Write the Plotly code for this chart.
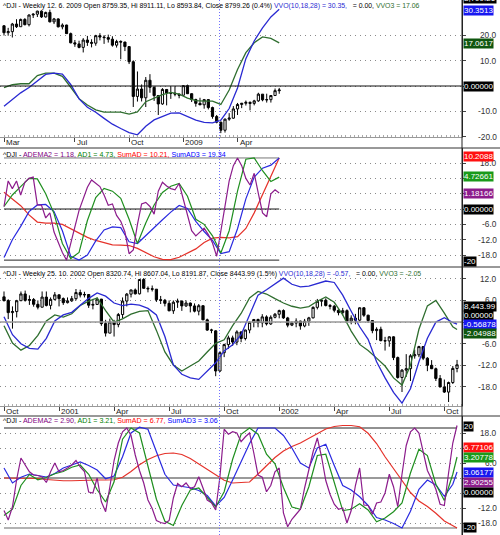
import plotly.graph_objects as go
import pandas as pd

W, H = 500, 535
AX_X = 462  # px position of right axis line

# ---------------- Panes 1-2 : ^DJI weekly 2008-03 .. 2009-06 ----------------
dates_a = pd.date_range("2008-03-07", periods=67, freq="W-FRI")
open_a = [12266, 11893, 11950, 12361, 12216, 12610, 12325, 12849, 12891, 13058, 12745, 12987, 12479, 12638, 12210,
          12307, 11843, 11346, 11288, 11100, 11496, 11370, 11326, 11734, 11659, 11628, 11543, 11220, 11421, 11388,
          11143, 10325, 8451, 8852, 8378, 9325, 8943, 8497, 8046, 8829, 8635, 8629, 8579, 8515, 9034, 8599, 8281,
          8077, 8001, 8280, 7850, 7365, 7062, 6627, 7224, 7278, 7776, 8018, 8083, 8131, 8076, 8212, 8575, 8268,
          8277, 8500, 8759.35]
high_a = [12300, 12156, 12422, 12622, 12655, 12679, 12884, 12943, 13079, 13099, 13031, 13136, 12692, 12668, 12397,
          12323, 11900, 11500, 11460, 11600, 11720, 11540, 11780, 11867, 11760, 11790, 11700, 11510, 11480, 11400,
          11150, 10400, 9800, 9100, 9500, 9654, 9000, 8530, 8900, 8835, 9000, 9000, 8600, 9065, 9090, 8620, 8330,
          8380, 8315, 8290, 7900, 7450, 7090, 7260, 7550, 7930, 8100, 8100, 8230, 8180, 8270, 8650, 8580, 8600,
          8520, 8880, 8911.11]
low_a = [11740, 11731, 11634, 12148, 12216, 12290, 12233, 12686, 12740, 12690, 12709, 12450, 12360, 12181, 12075,
         11835, 11320, 11130, 11050, 10827, 11180, 11100, 11190, 11480, 11290, 11360, 11140, 11090, 10460, 10900,
         10200, 7882, 8175, 8180, 7880, 8650, 8210, 7450, 8000, 7970, 8320, 8460, 8350, 8500, 8580, 8150, 7900,
         7980, 7790, 7750, 7250, 7000, 6470, 6500, 7140, 7250, 7450, 7820, 7960, 7700, 7970, 8160, 8190, 8120,
         8120, 8480, 8593.84]
close_a = [11894, 11951, 12361, 12216, 12609, 12325, 12849, 12891, 13058, 12745, 12986, 12479, 12638, 12209, 12307,
           11843, 11346, 11288, 11100, 11496, 11370, 11326, 11734, 11659, 11628, 11543, 11220, 11421, 11388, 11143,
           10325, 8451, 8852, 8378, 9325, 8943, 8497, 8046, 8829, 8635, 8629, 8579, 8515, 9034, 8599, 8281, 8077,
           8001, 8280, 7850, 7365, 7062, 6627, 7224, 7278, 7776, 8018, 8083, 8131, 8076, 8212, 8575, 8268, 8277,
           8500, 8764, 8799.26]
# indicator lines, sampled every second week (dates_a[::2])
vvo_a = [-8.0, -5.3, -2.7, -0.6, 2.1, 4.6, 5.1, 4.7, 0.6, -5.1, -8.4, -10.4, -12.8, -15.1, -16.8, -18.4, -19.3,
         -15.9, -13.4, -12.1, -10.7, -10.6, -12.1, -13.5, -14.4, -14.6, -13.5, -8.9, -0.8, 10.8, 17.8, 23.0, 27.3,
         30.3513]
vvo3_a = [-0.6, 0.5, 0.9, 0.9, 4.1, 5.1, 5.1, 3.8, -0.5, -5.0, -7.5, -9.4, -10.3, -10.3, -10.3, -11.1, -10.2,
          -6.2, -4.9, -3.4, -2.5, -3.2, -4.8, -5.8, -6.0, -6.0, -7.3, -1.6, 6.5, 13.2, 17.1, 19.4, 18.8, 17.0617]
# pane 2 (own-scaled lines, as drawn on the -20..20 band)
adema2_a = [1.0, 11.0, 8.0, 11.0, 5.5, 10.5, 12.0, 12.5, 1.6, 1.5,
            -3.5, -1.5, -9.0, -13.0, -17.0, -20.0, -14.0, -7.0, -0.5, 4.0,
            8.5, 11.4, 10.2, 8.8, 5.5, 1.5, 2.0, -2.5, -4.8, -9.0,
            -17.5, -16.0, -6.0, 2.0, 2.6, 1.0, -2.0, 7.0, 10.5, 9.0,
            8.0, 7.5, 10.0, 4.0, -3.0, -8.5, -10.5, -9.0, -7.5, -10.0,
            -13.3, -18.5, -9.0, 2.0, 11.0, 17.0, 20.0, 17.0, 12.0, 9.4,
            14.0, 6.0, -1.5, -3.0, 6.0, 7.5, 6.3]
ad1_a = [1.0, 5.5, 8.8, 12.0, 11.8, 6.0, -1.8, -13.5, -19.4, -17.0, -4.5, 4.5, 8.1, 7.0, 4.2, -4.0, -13.5,
         -5.5, 1.6, 6.5, 8.9, 10.0, 5.0, -4.0, -6.0, -10.5, -17.2, -8.5, 7.0, 19.5, 20.0, 15.0, 10.8, 12.5]
sumad_a = [6.6, 4.0, 1.3, -2.3, -5.1, -5.5, -5.5, -6.0, -7.7, -9.5, -11.1, -12.3, -13.3, -14.0, -14.1, -14.3,
           -15.4, -17.0, -18.7, -19.7, -19.8, -18.9, -17.2, -15.6, -13.1, -11.4, -11.1, -11.3, -10.8, -7.6, -1.5,
           5.5, 13.0, 20.0]
sumad3_a = [-19.0, -12.0, -6.8, -1.0, 1.6, 1.8, -1.0, -8.5, -18.5, -20.0, -18.0, -12.5, -8.2, -7.0, -7.3, -12.8,
            -13.5, -10.3, -7.5, -4.2, -1.2, 1.4, 0.2, -4.8, -8.8, -12.3, -17.4, -16.7, -7.7, 4.0, 12.5, 16.0,
            17.2, 20.0]
ind_last_a = [1.18166, 4.72661, 10.2088, 19.34]

# ---------------- Panes 3-4 : ^DJI weekly 2000-10 .. 2002-10 ----------------
dates_b = pd.date_range("2000-10-06", periods=108, freq="W-FRI")
open_b = [10720, 10596, 10192, 10226, 10590, 10817, 10602, 10629, 10470, 10373, 10712, 10434, 10635,
          10787, 10662, 10525, 10587, 10659, 10864, 10781, 10799, 10441, 10466, 10644, 9823, 9505, 9879, 9791,
          10127, 10579, 10811, 10951, 10821, 11301, 11006, 10990, 10977, 10623, 10604, 10502, 10252, 10540, 10577,
          10417, 10512, 10416, 10240, 10423, 9950, 9606, 9580, 8236, 8848, 9120, 9345, 9205, 9545, 9324, 9608,
          9867, 9960, 9852, 10049, 9812, 10036,
          10137, 10260, 10014, 9772, 9841, 9908, 9745, 9903, 10016, 10368, 10572, 10608, 10428, 10404, 10271,
          10191, 10257, 9911, 10006, 9939, 10353, 10105, 9925, 9589, 9633, 9253, 9243, 9380, 8685, 8019, 8264,
          8313, 8745, 8778, 9053, 8664, 8427, 8312, 7986, 7701, 7529, 7850, 8320.74]
high_b = [10900, 10640, 10400, 10620, 10900, 10930, 10770, 10680, 10600, 10900, 10900, 10700, 10880,
          10800, 10700, 10700, 10750, 10983, 10960, 10890, 10810, 10650, 10700, 10650, 9950, 9990, 9950, 10180,
          10700, 10850, 10960, 11000, 11320, 11350, 11070, 11100, 10980, 10750, 10650, 10600, 10600, 10660, 10600,
          10600, 10530, 10500, 10480, 10430, 9990, 9650, 9600, 8900, 9150, 9420, 9420, 9600, 9560, 9620, 9900,
          9980, 9990, 10140, 10100, 10100, 10180,
          10290, 10300, 10050, 9900, 10000, 9920, 9980, 10050, 10400, 10650, 10640, 10670, 10480, 10450, 10300,
          10350, 10300, 10100, 10150, 10370, 10380, 10120, 9930, 9700, 9720, 9380, 9400, 9400, 8720, 8300, 8800,
          8800, 8950, 9080, 9060, 8700, 8600, 8350, 8100, 7950, 7880, 8400, 8607.04]
low_b = [10560, 9975, 9655, 10030, 10580, 10560, 10450, 10390, 10300, 10370, 10400, 10300, 10600,
         10400, 10450, 10500, 10550, 10600, 10700, 10700, 10350, 10300, 10450, 9750, 9390, 9500, 9390, 9700,
         10000, 10400, 10700, 10800, 10800, 10990, 10870, 10900, 10550, 10480, 10400, 10240, 10150, 10350, 10250,
         10380, 10200, 10200, 10100, 9940, 9580, 9500, 8062, 8200, 8700, 8980, 9080, 9100, 9200, 9260, 9500,
         9700, 9700, 9700, 9760, 9780, 10000,
         10000, 9980, 9700, 9740, 9700, 9620, 9700, 9750, 10000, 10300, 10400, 10400, 10300, 10200, 10100,
         10100, 9900, 9800, 9800, 9900, 10050, 9850, 9500, 9270, 9230, 8920, 9050, 8600, 7980, 7532, 8040,
         7900, 8650, 8700, 8600, 8230, 8300, 7900, 7690, 7500, 7197, 7800, 8191.87]
close_b = [10596, 10192, 10226, 10590, 10817, 10602, 10629, 10470, 10373, 10712, 10434, 10635, 10787,
           10662, 10525, 10587, 10659, 10864, 10781, 10799, 10441, 10466, 10644, 9823, 9505, 9879, 9791, 10127,
           10579, 10811, 10951, 10821, 11301, 11006, 10990, 10977, 10623, 10604, 10502, 10252, 10540, 10577,
           10417, 10512, 10416, 10240, 10423, 9950, 9606, 9605, 8236, 8848, 9120, 9345, 9205, 9545, 9324, 9608,
           9867, 9960, 9852, 10049, 9812, 10036, 10137,
           10260, 10014, 9772, 9841, 9908, 9745, 9903, 10016, 10368, 10572, 10608, 10428, 10404, 10271, 10191,
           10257, 9911, 10006, 9939, 10353, 10105, 9925, 9589, 9633, 9253, 9243, 9380, 8685, 8019, 8264, 8313,
           8745, 8778, 9053, 8664, 8427, 8312, 7986, 7701, 7529, 7850, 8322, 8443.99]
# sampled every second week plus the last week
vvo_b = [1.5, -3.5, -6.0, -7.3, -7.5, -4.5, 0.3, 2.0, 2.7, 4.7, 6.6, 8.1, 7.2, 5.3, 4.6, 5.0, 4.7, 3.8, 2.0, -4.0,
         -11.9, -14.5, -15.5, -15.9, -13.6, -11.3, -8.0, -6.3, -3.5, 2.0, 7.5, 9.0, 10.5, 12.2, 10.5, 9.8, 10.0,
         10.8, 11.4, 11.0, 7.5, 3.0, -1.3, -4.8, -11.0, -15.5, -19.5, -22.5, -18.5, -11.0, -4.5, 0.0, 1.2, -0.1,
         -0.56878]
vvo3_b = [-1.0, -5.8, -7.8, -6.5, -3.7, 0.3, 2.0, 1.4, 2.3, 4.6, 5.8, 6.7, 3.2, 0.0, 0.9, 2.2, 3.0, 3.2, -2.3,
          -8.3, -11.9, -13.6, -12.2, -10.8, -8.3, -5.9, -4.9, -1.0, 2.4, 6.7, 8.5, 7.8, 6.5, 5.3, 4.4, 3.9, 4.3,
          5.8, 7.0, 5.5, 2.0, -2.5, -6.2, -7.9, -10.0, -12.2, -15.5, -17.5, -12.0, -2.0, 4.5, 6.0, 2.5, -1.3,
          -2.04988]
adema2_b = [-13.0, -16.8, -11.5, -0.5, 8.0, 5.5, 2.5, 1.2, 1.0, 0.4,
            -1.8, 2.5, 6.0, 2.5, 3.0, 4.0, 5.2, 7.0, 4.4, 2.6,
            -5.6, -6.0, 0.0, -9.5, -13.5, -3.5, 7.0, 14.0, 18.5, 20.0,
            17.0, 9.2, 3.0, -2.0, -8.8, -12.2, -17.0, -17.8, -18.2, -17.0,
            -8.0, -2.2, -3.5, -2.0, -4.2, -3.5, 0.5, -4.0, -8.8, -9.9,
            -12.8, 0.5, 19.5, 17.5, 18.5, 18.0, 14.5, 16.5, 18.0, 10.0,
            1.2, 0.3, -5.5, -3.0, 2.5, 4.0, -14.0, -19.5, -16.5, -14.5,
            -12.5, -4.0, 3.5, 10.5, 16.0, 8.5, -1.0, -6.5, -10.5, -12.5,
            -12.0, -18.0, -13.0, -3.0, 4.0, -10.8, -11.0, -14.5, -10.0, -9.6,
            -6.0, 1.5, -3.5, -11.5, 1.5, 13.0, 18.5, 20.0, 18.0, 10.0,
            3.0, -0.5, -4.5, -10.5, -11.0, 2.0, 14.0, 21.0]
ad1_b = [-15.0, -12.5, -3.0, 1.4, -0.7, 0.2, 1.7, 2.6, 4.3, 5.2, 1.5, -4.7, -9.6, -1.5, 15.5, 20.0, 18.0, 4.8,
         -8.5, -17.3, -19.0, -11.0, -4.8, -4.0, -7.6, -11.6, -5.5, 7.5, 17.5, 20.0, 17.5, 9.5, 5.7, -3.8, -11.6,
         -12.5, -3.5, 9.0, 9.5, -1.7, -13.0, -12.5, -10.3, -12.8, -17.5, -16.0, -13.5, -10.0, 2.0, 11.5, 9.0,
         -2.5, -9.0, 1.5, 8.4]
sumad_b = [0.0, 0.0, 0.0, 0.0, -0.2, -0.6, -0.9, -1.1, -1.1, -0.9, -0.8, -0.8, -0.8, -0.7, 0.3, 2.6, 5.3, 7.4,
           8.9, 9.8, 10.0, 9.4, 7.8, 5.6, 3.4, 1.0, -0.9, -2.0, -1.8, -1.6, 1.6, 5.0, 8.2, 10.8, 12.6, 14.0, 15.8,
           17.8, 19.6, 20.6, 21.0, 21.0, 20.5, 17.9, 13.8, 8.5, 3.5, -1.0, -5.8, -9.2, -11.4, -14.1, -17.2, -19.0,
           -20.0]
sumad3_b = [4.0, -2.0, 0.3, 1.6, 1.0, 0.4, 1.8, 4.0, 5.2, 6.4, 5.0, 3.2, -0.3, 0.8, 8.5, 18.0, 20.3, 19.5, 10.5,
            1.5, -2.8, -3.5, -3.9, -5.0, -7.0, -11.2, -7.8, -0.8, 6.5, 13.8, 20.0, 20.0, 20.0, 17.0, 12.0, 6.0,
            4.0, 12.0, 13.5, 5.0, -3.0, -4.8, -7.5, -11.0, -15.8, -16.8, -18.2, -20.0, -13.3, -4.5, -0.8, -2.8,
            -7.3, -2.5, 2.4]
ind_last_b = [2.90255, 3.20778, 6.77106, 3.06177]
ind_names = ["ADEMA2", "AD1", "SumAD", "SumAD3"]

# axis ticks / labels
ticks_1 = [20, 10, 0, -10, -20]
ticks_2 = [18, 12, 6, 0, -6, -12, -18]
ticks_3 = [12, 6, 0, -6, -12, -18]
ticks_4 = [18, 12, 6, 0, -6, -12, -18]
band_levels = [20, 0, -20]
month_ticks_a = ["2008-03-07", "2008-07-04", "2008-10-03", "2009-01-02", "2009-04-03"]
month_text_a = ["Mar", "Jul", "Oct", "2009", "Apr"]
month_ticks_b = ["2000-10-06", "2001-01-05", "2001-04-06", "2001-07-06", "2001-10-05",
                 "2002-01-04", "2002-04-05", "2002-07-05", "2002-10-04"]
month_text_b = ["Oct", "2001", "Apr", "Jul", "Oct", "2002", "Apr", "Jul", "Oct"]

for arr in (open_a, high_a, low_a, close_a, adema2_a):
    assert len(arr) == len(dates_a), len(arr)
for arr in (vvo_a, vvo3_a, ad1_a, sumad_a, sumad3_a):
    assert len(arr) == len(dates_a[::2]), len(arr)
for arr in (open_b, high_b, low_b, close_b, adema2_b):
    assert len(arr) == len(dates_b), len(arr)
xs_b = list(dates_b[::2]) + [dates_b[-1]]
for arr in (vvo_b, vvo3_b, ad1_b, sumad_b, sumad3_b):
    assert len(arr) == len(xs_b), len(arr)
xs_a = list(dates_a[::2])

# ---------------- styling ----------------
FONT = "Liberation Sans, Arial, sans-serif"
C_BLUE = "#2a2ad2"
C_GDARK = "#2f6e2f"
C_PURPLE = "#8c1c8c"
C_GREEN = "#1f8f1f"
C_RED = "#e5322a"
C_BLUE2 = "#2a2ae0"
GRID = "#8a8a8a"


def pv(px):  # pixel row -> paper y
    return 1 - px / H


dom1 = [pv(137), 1.0]
dom2 = [pv(267), pv(148)]
dom3 = [pv(406), pv(267)]
dom4 = [0.0, pv(416)]
XD = [0, AX_X / W]

pxw_a, pxw_b = 4.17, 4.234
rng_a = [dates_a[0] - pd.Timedelta(days=7 * 4 / pxw_a), dates_a[0] + pd.Timedelta(days=7 * (AX_X - 4) / pxw_a)]
rng_b = [dates_b[0] - pd.Timedelta(days=7 * 4 / pxw_b), dates_b[0] + pd.Timedelta(days=7 * (AX_X - 4) / pxw_b)]

fig = go.Figure()

candle_style = dict(increasing=dict(line=dict(color="black", width=1), fillcolor="white"),
                    decreasing=dict(line=dict(color="black", width=1), fillcolor="black"),
                    whiskerwidth=0, showlegend=False, hoverinfo="skip")

# pane 1
fig.add_trace(go.Candlestick(x=dates_a, open=open_a, high=high_a, low=low_a, close=close_a,
                             xaxis="x", yaxis="y", **candle_style))
fig.add_trace(go.Scatter(x=xs_a, y=vvo3_a, mode="lines", line=dict(color=C_GDARK, width=1.3),
                         xaxis="x", yaxis="y2", showlegend=False))
fig.add_trace(go.Scatter(x=xs_a, y=vvo_a, mode="lines", line=dict(color=C_BLUE, width=1.3),
                         xaxis="x", yaxis="y2", showlegend=False))
# pane 2
for lvl, col in zip(band_levels, ["#777777", "#111111", "#222222"]):
    fig.add_trace(go.Scatter(x=dates_a, y=[lvl] * len(dates_a), mode="lines", line=dict(color=col, width=1),
                             xaxis="x2", yaxis="y3", showlegend=False))
fig.add_trace(go.Scatter(x=xs_a, y=sumad_a, mode="lines", line=dict(color=C_RED, width=1.2),
                         xaxis="x2", yaxis="y3", showlegend=False))
fig.add_trace(go.Scatter(x=xs_a, y=sumad3_a, mode="lines", line=dict(color=C_BLUE2, width=1.2),
                         xaxis="x2", yaxis="y3", showlegend=False))
fig.add_trace(go.Scatter(x=xs_a, y=ad1_a, mode="lines", line=dict(color=C_GREEN, width=1.2),
                         xaxis="x2", yaxis="y3", showlegend=False))
fig.add_trace(go.Scatter(x=dates_a, y=adema2_a, mode="lines", line=dict(color=C_PURPLE, width=1.2),
                         xaxis="x2", yaxis="y3", showlegend=False))
# pane 3
fig.add_trace(go.Candlestick(x=dates_b, open=open_b, high=high_b, low=low_b, close=close_b,
                             xaxis="x3", yaxis="y4", **candle_style))
fig.add_trace(go.Scatter(x=xs_b, y=vvo3_b, mode="lines", line=dict(color=C_GDARK, width=1.3),
                         xaxis="x3", yaxis="y5", showlegend=False))
fig.add_trace(go.Scatter(x=xs_b, y=vvo_b, mode="lines", line=dict(color=C_BLUE, width=1.3),
                         xaxis="x3", yaxis="y5", showlegend=False))
# pane 4
for lvl, col, wd in zip(band_levels, ["#222222", "#9a9a9a", "#9a9a9a"], [1, 2, 1.5]):
    fig.add_trace(go.Scatter(x=dates_b, y=[lvl] * len(dates_b), mode="lines", line=dict(color=col, width=wd),
                             xaxis="x4", yaxis="y6", showlegend=False))
fig.add_trace(go.Scatter(x=xs_b, y=sumad_b, mode="lines", line=dict(color=C_RED, width=1.2),
                         xaxis="x4", yaxis="y6", showlegend=False))
fig.add_trace(go.Scatter(x=xs_b, y=sumad3_b, mode="lines", line=dict(color=C_BLUE2, width=1.2),
                         xaxis="x4", yaxis="y6", showlegend=False))
fig.add_trace(go.Scatter(x=xs_b, y=ad1_b, mode="lines", line=dict(color=C_GREEN, width=1.2),
                         xaxis="x4", yaxis="y6", showlegend=False))
fig.add_trace(go.Scatter(x=dates_b, y=adema2_b, mode="lines", line=dict(color=C_PURPLE, width=1.2),
                         xaxis="x4", yaxis="y6", showlegend=False))


def date_axis(rng, ticks, anchor, d0):
    return dict(domain=XD, anchor=anchor, type="date", range=rng, showline=True, linecolor="#999999",
                linewidth=1, ticks="outside", ticklen=4, tickcolor="#444444", tickvals=ticks,
                showticklabels=False, showgrid=False, zeroline=False, rangeslider=dict(visible=False),
                minor=dict(ticks="inside", ticklen=2, tickcolor="#aaaaaa", dtick=7 * 86400000, tick0=d0,
                           showgrid=False))


def value_axis(dom, rng, ticks, anchor, overlay=None):
    d = dict(domain=dom, anchor=anchor, side="right", range=rng, tickvals=ticks, showticklabels=False,
             ticks="outside", ticklen=3, tickcolor="#444444", showgrid=True, gridcolor=GRID, griddash="1px,4px",
             gridwidth=1, showline=True, linecolor="#222222", linewidth=1, zeroline=False)
    if overlay:
        d["overlaying"] = overlay
    return d


hidden_price = lambda dom, rng, anchor: dict(domain=dom, range=rng, anchor=anchor, visible=False,
                                             showgrid=False, zeroline=False)

fig.update_layout(
    width=W, height=H, margin=dict(l=0, r=0, t=0, b=0), paper_bgcolor="white", plot_bgcolor="white",
    showlegend=False, boxgap=0.25,
    xaxis=date_axis(rng_a, month_ticks_a, "y", dates_a[0]),
    xaxis2=dict(matches="x", anchor="y3", domain=XD, type="date", visible=False, rangeslider=dict(visible=False)),
    xaxis3=date_axis(rng_b, month_ticks_b, "y4", dates_b[0]),
    xaxis4=dict(matches="x3", anchor="y6", domain=XD, type="date", visible=False, rangeslider=dict(visible=False)),
    yaxis=hidden_price(dom1, [6261, 13659], "x"),
    yaxis2=value_axis(dom1, [-20.16, 34.0], ticks_1, "x", overlay="y"),
    yaxis3=value_axis(dom2, [-22.7, 23.9], ticks_2, "x2"),
    yaxis4=hidden_price(dom3, [7063, 11720], "x3"),
    yaxis5=value_axis(dom3, [-23.3, 15.3], ticks_3, "x3", overlay="y4"),
    yaxis6=value_axis(dom4, [-22.8, 24.8], ticks_4, "x4"),
)

shapes = []
# zero lines for panes 1 and 3 (full width)
shapes.append(dict(type="line", xref="paper", x0=0, x1=AX_X / W, yref="y2", y0=band_levels[1], y1=band_levels[1],
                   line=dict(color="#111111", width=1)))
shapes.append(dict(type="line", xref="paper", x0=0, x1=AX_X / W, yref="y5", y0=band_levels[1], y1=band_levels[1],
                   line=dict(color="#999999", width=1.5)))
# pane separators and right border
for py in (148, 267, 416):
    shapes.append(dict(type="line", xref="paper", x0=0, x1=1, yref="paper", y0=pv(py), y1=pv(py),
                       line=dict(color="#333333", width=1)))
shapes.append(dict(type="line", xref="paper", x0=AX_X / W, x1=AX_X / W, yref="paper", y0=0, y1=1,
                   line=dict(color="#222222", width=1)))
# cross-hair
shapes.append(dict(type="line", xref="paper", x0=219.5 / W, x1=219.5 / W, yref="paper", y0=0, y1=1,
                   line=dict(color="#7070ff", width=1, dash="1px,2px")))
fig.update_layout(shapes=shapes)

ann = []


def span(txt, col):
    return f'<span style="color:{col}">{txt}</span>'


def title_price(dates, o, h, l, c, vvo, vvo3):
    d = dates[-1]
    chg = (c[-1] / c[-2] - 1) * 100
    return (f"^DJI - Weekly {d.day}. {d.month}. {d.year} Open {o[-1]:.2f}, Hi {h[-1]:.2f}, Lo {l[-1]:.2f}, "
            f"Close {c[-1]:.2f} ({chg:.1f}%) " + span(f"VVO(10,18,28) = {vvo[-1]:.2f},", C_BLUE)
            + "\u00a0\u00a0 = 0.00, " + span(f"VVO3 = {vvo3[-1]:.2f}", C_GDARK))


def title_ind(vals):
    cols = ["#800080", "#008000", "#ff0000", "#0000ff"]
    parts = []
    for i, (n, v, col) in enumerate(zip(ind_names, vals, cols)):
        sep = "," if i < 3 else ""
        parts.append(span(f"{n} = {v:.2f}{sep}", col))
    return "^DJI - " + " ".join(parts)


for txt, py, fs in ((title_price(dates_a, open_a, high_a, low_a, close_a, vvo_a, vvo3_a), 5.5, 6.9),
                    (title_ind(ind_last_a), 155, 7.1),
                    (title_price(dates_b, open_b, high_b, low_b, close_b, vvo_b, vvo3_b), 273.5, 6.9),
                    (title_ind(ind_last_b), 421, 7.1)):
    ann.append(dict(x=2 / W, xref="paper", xanchor="left", y=pv(py), yref="paper", yanchor="middle",
                    text=txt, showarrow=False, font=dict(family=FONT, size=fs, color="#000000"), borderpad=0))


def fmt(v):
    return f"{v:.5f}" if abs(v) < 10 else f"{v:.4f}"


# value boxes (text, pixel centre row, colour)
boxes = [
    (f"{close_a[-1]:,.2f}", -1, "#000000"),
    (fmt(vvo_a[-1]), 10, "#1818f0"),
    (fmt(vvo3_a[-1]), 43.5, "#0f560f"),
    (fmt(0.0), 86, "#000000"),
    (fmt(ind_last_a[2]), 157, "#ff1010"),
    (fmt(ind_last_a[1]), 177, "#1a9a1a"),
    (fmt(ind_last_a[0]), 193, "#8c1c8c"),
    (fmt(0.0), 209, "#000000"),
    ("-20", 261, "#000000"),
    (f"{close_b[-1]:,.2f}", 306.5, "#000000"),
    (fmt(0.0), 315, "#000000"),
    (fmt(vvo_b[-1]), 324, "#1818f0"),
    (fmt(vvo3_b[-1]), 333, "#0f560f"),
    ("20", 426, "#000000"),
    (fmt(ind_last_b[2]), 447, "#ff1010"),
    (fmt(ind_last_b[1]), 457, "#1a9a1a"),
    (fmt(ind_last_b[3]), 472, "#1818f0"),
    (fmt(ind_last_b[0]), 482, "#8c1c8c"),
    (fmt(0.0), 492, "#000000"),
    ("-20", 527, "#000000"),
]
wide_rows = [py for txt, py, col in boxes if len(txt) > 3]

# right-axis tick labels (skipping those hidden behind value boxes)
panes = ((ticks_1, "y2", 0, 137, [-20.16, 34.0]), (ticks_2, "y3", 148, 267, [-22.7, 23.9]),
         (ticks_3, "y5", 267, 406, [-23.3, 15.3]), (ticks_4, "y6", 416, 535, [-22.8, 24.8]))
for ticks, yref, top, bot, rng in panes:
    for t in ticks:
        row = top + (rng[1] - t) / (rng[1] - rng[0]) * (bot - top)
        if any(abs(row - r) < 5.5 for r in wide_rows):
            continue
        ann.append(dict(x=498 / W, xref="paper", xanchor="right", y=t, yref=yref, yanchor="middle",
                        text=f"{t:.1f}", showarrow=False, font=dict(family=FONT, size=8.3, color="#333333"),
                        borderpad=0))

# date labels
for ticks, texts, xref, py in ((month_ticks_a, month_text_a, "x", 142.5), (month_ticks_b, month_text_b, "x3", 411.5)):
    for t, s in zip(ticks, texts):
        ann.append(dict(x=t, xref=xref, xanchor="left", xshift=1, y=pv(py), yref="paper", yanchor="middle",
                        text=s, showarrow=False, font=dict(family=FONT, size=8, color="#222222"), borderpad=0))

for txt, py, col in boxes:
    ann.append(dict(x=463 / W, xref="paper", xanchor="left", y=pv(py), yref="paper", yanchor="middle",
                    text=txt, showarrow=False, bgcolor=col, font=dict(family=FONT, size=8, color="white"),
                    borderpad=0, height=8.5))

fig.update_layout(annotations=ann)
fig.write_html("out.html")
